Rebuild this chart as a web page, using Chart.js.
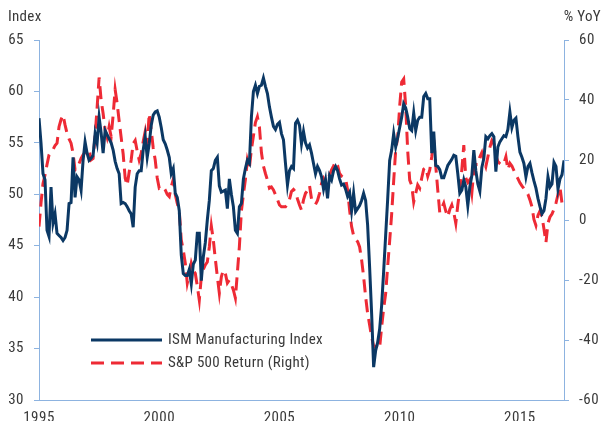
<!DOCTYPE html>
<html>
<head>
<meta charset="utf-8">
<script src="https://cdn.jsdelivr.net/npm/chart.js@4.4.0/dist/chart.umd.min.js"></script>
<style>
  html, body { margin: 0; padding: 0; background: #ffffff; }
  #wrap { width: 601px; height: 421px; }
</style>
</head>
<body>
<div id="wrap"><canvas id="chart" width="601" height="421"></canvas></div>
<script>
// Monthly series, January 1995 through November 2016
const startYear = 1995;
const yearTicks = [1995, 2000, 2005, 2010, 2015];
const seriesNames = ['ISM Manufacturing Index', 'S&P 500 Return (Right)'];
const axisTitles = ['Index', '% YoY'];

// ISM Manufacturing PMI (index level, left axis)
const ismIndex = [
  57.4, 55.0, 52.0, 51.4, 46.5, 45.9, 50.7, 47.2, 48.1, 46.2, 46.0, 45.8,
  45.5, 45.8, 46.5, 49.1, 49.2, 53.6, 49.7, 51.7, 51.4, 50.4, 53.3, 55.1,
  54.0, 53.3, 53.5, 53.8, 55.9, 55.0, 57.5, 56.0, 54.0, 56.2, 55.8, 55.4,
  55.0, 54.3, 53.2, 52.5, 52.0, 49.1, 49.2, 49.1, 48.8, 48.4, 48.1, 46.8,
  50.7, 52.0, 52.3, 52.3, 54.3, 55.6, 53.6, 54.9, 56.7, 57.7, 58.0, 58.1,
  57.5, 56.5, 55.3, 54.9, 54.3, 53.6, 52.0, 52.5, 50.1, 49.7, 48.4, 44.1,
  42.3, 42.1, 42.1, 42.7, 41.3, 43.2, 43.6, 46.2, 46.2, 41.6, 43.9, 45.3,
  47.5, 49.4, 52.3, 52.5, 53.3, 53.6, 50.8, 50.2, 50.3, 50.4, 48.6, 51.5,
  50.0, 48.8, 46.5, 46.2, 48.8, 49.1, 51.5, 52.5, 53.3, 53.0, 57.5, 60.0,
  60.6, 59.8, 60.5, 60.6, 61.3, 60.5, 59.8, 58.5, 57.5, 56.6, 56.3, 56.8,
  57.0, 55.9, 55.3, 53.0, 50.9, 52.3, 52.7, 52.5, 56.9, 57.2, 56.7, 54.9,
  56.1, 55.0, 54.5, 54.8, 54.0, 53.0, 52.0, 52.7, 52.3, 51.7, 50.5, 51.4,
  49.6, 51.8, 51.4, 52.3, 52.7, 52.3, 51.5, 50.9, 51.0, 50.5, 49.8, 50.2,
  48.4, 50.1, 48.3, 48.6, 48.9, 49.4, 50.1, 49.4, 47.0, 42.9, 38.4, 33.2,
  34.8, 35.6, 36.9, 39.2, 42.5, 46.0, 49.5, 53.3, 54.3, 55.9, 54.6, 55.5,
  56.5, 57.5, 58.8, 58.4, 57.5, 56.4, 56.2, 57.9, 56.2, 57.2, 57.5, 57.5,
  59.5, 59.8, 59.3, 59.3, 54.0, 56.1, 52.8, 52.7, 52.4, 51.6, 51.6, 52.2,
  52.8, 53.1, 53.4, 53.8, 53.7, 52.0, 50.1, 50.4, 51.4, 50.7, 48.9, 50.7,
  51.8, 54.3, 52.3, 51.0, 50.3, 52.6, 53.5, 55.6, 55.4, 55.7, 55.9, 55.6,
  52.2, 54.6, 55.1, 55.4, 55.7, 55.6, 56.3, 58.0, 56.5, 57.2, 57.4, 55.6,
  54.1, 53.6, 53.0, 51.7, 52.7, 53.0, 52.1, 51.3, 50.6, 49.6, 48.8, 48.1,
  48.4, 49.6, 51.7, 50.7, 51.0, 53.1, 52.7, 50.5, 51.5, 51.9, 53.3
];

// S&P 500 year-over-year price return in percent (right axis)
const sp500YoY = [
  -2.2, 5.6, 12.2, 15.0, 18.5, 21.7, 22.8, 23.5, 24.8, 25.6, 31.1, 33.5,
  35.0, 31.7, 28.9, 27.0, 25.6, 22.2, 16.7, 17.2, 18.8, 20.5, 21.7, 22.5,
  22.8, 23.3, 20.0, 20.5, 28.0, 37.5, 47.5, 40.0, 35.5, 30.0, 27.5, 31.1,
  27.8, 35.0, 43.5, 38.9, 33.0, 27.5, 22.0, 14.0, 11.5, 16.0, 20.0, 25.5,
  26.5, 23.0, 20.0, 22.2, 26.2, 29.5, 25.0, 35.5, 30.0, 24.0, 20.0, 14.0,
  10.6, 11.0, 11.0, 10.0, 8.5, 7.8, 11.1, 13.5, 8.5, 5.5, 3.0, -6.7,
  -10.0, -14.4, -21.0, -18.0, -14.4, -16.7, -17.8, -22.0, -26.7, -19.0, -16.5, -15.0,
  -14.0, -9.0, -2.0, -6.7, -13.0, -18.9, -24.4, -18.9, -16.7, -17.8, -21.0, -20.0,
  -21.5, -23.3, -26.0, -17.5, -8.9, 3.0, 8.5, 13.5, 20.0, 17.5, 23.5, 28.0,
  32.5, 34.4, 31.0, 22.5, 18.0, 15.5, 13.3, 10.6, 11.0, 10.0, 8.5, 6.8,
  5.0, 4.4, 4.4, 4.4, 5.3, 6.8, 9.5, 10.2, 9.4, 7.0, 5.0, 3.3,
  6.7, 8.9, 9.8, 11.5, 7.0, 5.8, 5.2, 6.5, 8.9, 12.2, 13.8, 12.3,
  12.8, 15.0, 16.7, 18.0, 19.4, 18.2, 15.5, 14.6, 14.2, 13.9, 10.0, 3.3,
  -2.2, -5.2, -6.5, -7.2, -9.0, -13.3, -18.9, -25.6, -31.1, -35.0, -39.0, -42.0,
  -42.5, -41.5, -42.5, -35.6, -29.5, -24.5, -15.5, -7.0, 2.0, 13.0, 23.3, 27.5,
  38.0, 46.0, 47.0, 38.0, 23.0, 13.3, 11.5, 6.0, 8.9, 11.7, 10.6, 14.0,
  17.0, 17.5, 14.6, 16.7, 21.1, 26.7, 18.0, 10.0, 2.5, 4.0, 5.6, 3.0,
  1.1, 3.5, 5.0, 2.5, -1.1, 5.0, 10.0, 16.7, 25.0, 14.0, 12.5, 13.5,
  9.0, 16.5, 18.5, 18.5, 21.0, 22.5, 19.8, 17.8, 21.0, 24.2, 26.5, 25.5,
  21.5, 19.5, 18.8, 18.3, 18.9, 21.1, 16.8, 18.9, 18.0, 16.5, 15.0, 13.8,
  12.4, 11.4, 10.5, 9.5, 8.6, 6.7, 4.4, 0.2, -1.8, 1.5, 3.0, 1.2,
  -3.0, -7.5, -1.1, 1.0, 2.0, 3.6, 5.6, 8.5, 11.0, 5.6, 6.1
];

const NAVY = '#0b3864';
const RED = '#ee2a35';
const AXIS = '#8db3e0';
const TEXT = '#3a3a3a';
const FONT = '"Liberation Sans Narrow", "Arial Narrow", "Roboto Condensed", "Liberation Sans", sans-serif';
const RED_DASH = [13, 7];

const toPoints = values => values.map((v, i) => ({ x: startYear + i / 12, y: v }));
const lastX = startYear + (ismIndex.length - 1) / 12;

// Slightly looser letter spacing for all chart text
const textSpacing = {
  id: 'textSpacing',
  beforeDraw(chart) { chart.ctx.letterSpacing = '0.5px'; }
};

// Axis titles and the in-plot legend
const annotations = {
  id: 'annotations',
  afterDraw(chart) {
    const ctx = chart.ctx;
    ctx.save();
    ctx.letterSpacing = '0.3px';
    ctx.font = '15px ' + FONT;
    ctx.fillStyle = TEXT;
    ctx.textBaseline = 'middle';
    ctx.textAlign = 'left';
    ctx.fillText(axisTitles[0], 8, 17);
    ctx.textAlign = 'right';
    ctx.fillText(axisTitles[1], 601, 17);

    const rows = [340, 363];
    chart.data.datasets.forEach((ds, i) => {
      const y = rows[i];
      ctx.beginPath();
      ctx.setLineDash(ds.borderDash || []);
      ctx.lineWidth = ds.borderWidth;
      ctx.strokeStyle = ds.borderColor;
      ctx.moveTo(91, y);
      ctx.lineTo(162, y);
      ctx.stroke();
      ctx.setLineDash([]);
      ctx.textAlign = 'left';
      ctx.fillStyle = TEXT;
      ctx.fillText(ds.label, 168, y);
    });
    ctx.restore();
  }
};

new Chart(document.getElementById('chart'), {
  type: 'line',
  data: {
    datasets: [
      {
        label: seriesNames[0],
        data: toPoints(ismIndex),
        yAxisID: 'y',
        borderColor: NAVY,
        borderWidth: 3,
        pointRadius: 0,
        tension: 0,
        fill: false
      },
      {
        label: seriesNames[1],
        data: toPoints(sp500YoY),
        yAxisID: 'y1',
        borderColor: RED,
        borderWidth: 3,
        borderDash: RED_DASH,
        pointRadius: 0,
        tension: 0,
        fill: false
      }
    ]
  },
  options: {
    responsive: false,
    animation: false,
    events: [],
    layout: { padding: { top: 40, left: 0, right: 0, bottom: 0 } },
    plugins: { legend: { display: false }, tooltip: { enabled: false }, title: { display: false } },
    scales: {
      x: {
        type: 'linear',
        min: startYear,
        max: lastX,
        afterFit(s) { s.height = 21; },
        afterBuildTicks(s) { s.ticks = yearTicks.map(v => ({ value: v })); },
        grid: { display: true, drawOnChartArea: false, drawTicks: false },
        border: { display: true, color: AXIS, width: 1 },
        ticks: {
          padding: 9,
          maxRotation: 0,
          color: TEXT,
          font: { family: FONT, size: 15 },
          callback: v => String(v)
        }
      },
      y: {
        position: 'left',
        min: 30,
        max: 65,
        afterFit(s) { s.width = 39; },
        grid: { drawOnChartArea: false, drawTicks: true, tickLength: 5, color: AXIS },
        border: { display: true, color: AXIS, width: 1 },
        ticks: { stepSize: 5, padding: 10, color: TEXT, font: { family: FONT, size: 15 } }
      },
      y1: {
        position: 'right',
        min: -60,
        max: 60,
        afterFit(s) { s.width = 37; },
        grid: { drawOnChartArea: false, drawTicks: true, tickLength: 5, color: AXIS },
        border: { display: true, color: AXIS, width: 1 },
        ticks: { stepSize: 20, padding: 10, color: TEXT, font: { family: FONT, size: 15 } }
      }
    }
  },
  plugins: [textSpacing, annotations]
});
</script>
</body>
</html>
